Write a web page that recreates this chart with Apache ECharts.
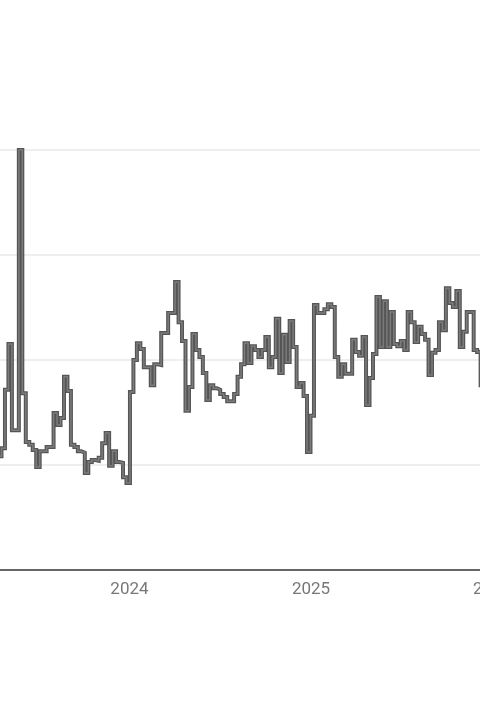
<!DOCTYPE html>
<html>
<head>
<meta charset="utf-8">
<script src="https://cdn.jsdelivr.net/npm/echarts@6/dist/echarts.min.js"></script>
<style>
html,body{margin:0;padding:0;background:#fff;}
#c{width:480px;height:720px;}
</style>
</head>
<body>
<div id="c"></div>
<script>
// weekly observations, first week starting 2023-04-11
const startDate = '2023-04-11';
const values = [
  27.1, 29.0, 42.9, 53.8, 33.3, 33.3, 100, 42.1, 30.5, 29.8,
  28.6, 24.5, 28.3, 28.3, 29.3, 29.3, 37.4, 34.5, 36.2, 46.0,
  42.6, 29.8, 29.3, 28.3, 27.9, 23.1, 25.7, 26.2, 26.0, 26.7,
  30.2, 32.6, 24.8, 28.3, 25.7, 25.5, 22.1, 20.7,
  42.4, 50.0, 54.0, 52.6, 48.3, 48.3, 44.0, 49.0, 48.8, 56.4,
  56.4, 61.2, 61.2, 68.6, 59.0, 54.5, 37.9, 43.6, 56.2, 52.4,
  50.7, 46.9, 40.5, 44.0, 43.3, 42.9, 41.9, 41.2, 40.2, 40.2,
  41.9, 46.0, 49.0, 54.0, 49.3, 53.3, 52.4, 50.7, 52.4, 55.5,
  48.3, 50.7, 59.8, 46.9, 56.0, 49.5, 59.3, 53.1, 43.6, 44.5,
  41.4, 28.1, 36.7, 63.1, 61.2, 61.2, 62.1, 63.3, 62.6, 50.7,
  46.0, 49.0, 46.7, 46.7, 54.8, 51.9, 51.0, 55.5, 39.3, 45.7,
  51.4, 65.0, 53.1, 64.0, 53.1, 61.4, 53.8, 53.3, 54.5, 52.4,
  61.4, 59.0, 54.3, 57.9, 56.2, 54.8, 46.4, 51.7, 52.4, 59.0,
  57.1, 67.1, 63.6, 62.6, 66.4, 53.1, 56.7, 61.4, 61.4, 52.4,
  51.9, 44.0, 42.9
];
const yTicks = [0, 25, 50, 75, 100];
const xRange = ['2023-04-15', '2026-02-01'];

const DAY = 86400000;
const t0 = Date.parse(startDate + 'T00:00:00Z');
const data = values.map((v, i) => [t0 + i * 7 * DAY, v]);

const chart = echarts.init(document.getElementById('c'), null, {renderer: 'canvas'});
const yearFmt = function (val) {
  const d = new Date(val);
  return (d.getUTCMonth() === 0 && d.getUTCDate() === 1) ? String(d.getUTCFullYear()) : '';
};
chart.setOption({
  animation: false,
  backgroundColor: '#ffffff',
  grid: {left: 0, right: -27.4, top: 150, bottom: 150, containLabel: false, outerBoundsMode: 'none'},
  xAxis: {
    type: 'time',
    min: Date.parse(xRange[0] + 'T00:00:00Z'),
    max: Date.parse(xRange[1] + 'T00:00:00Z'),
    axisLine: {show: true, lineStyle: {color: '#666666', width: 2}},
    axisTick: {show: false},
    splitLine: {show: false},
    axisLabel: {
      formatter: yearFmt,
      color: '#777777',
      fontSize: 17,
      fontFamily: 'Roboto',
      margin: 11,
      hideOverlap: false
    }
  },
  yAxis: {
    type: 'value',
    min: yTicks[0],
    max: yTicks[yTicks.length - 1],
    interval: yTicks[1] - yTicks[0],
    axisLine: {show: false},
    axisTick: {show: false},
    axisLabel: {show: false},
    splitLine: {show: true, lineStyle: {color: '#e8e8e8', width: 1.5}}
  },
  series: [
    {
      type: 'line', step: 'end', data: data, symbol: 'none', clip: false,
      lineStyle: {color: '#555555', width: 4, join: 'miter'},
      z: 2
    },
    {
      type: 'line', step: 'end', data: data, symbol: 'none', clip: false,
      lineStyle: {color: '#7c7c7c', width: 1.5, join: 'miter'},
      z: 3
    }
  ]
});
</script>
</body>
</html>
